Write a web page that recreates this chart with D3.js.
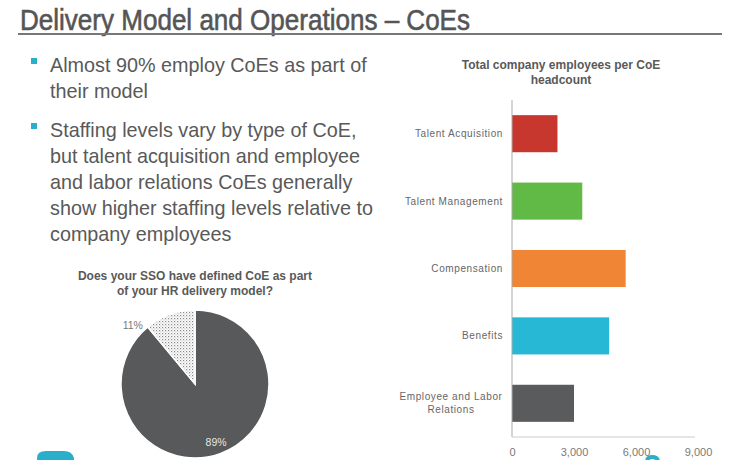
<!DOCTYPE html>
<html><head><meta charset="utf-8">
<script src="https://cdn.jsdelivr.net/npm/d3@7/dist/d3.min.js"></script>
<style>
html,body{margin:0;padding:0;background:#fff;}
svg{display:block;font-family:"Liberation Sans",Arial,sans-serif;}
</style></head>
<body>
<svg id="c" width="740" height="460"></svg>
<script>
// ---- data ----
const categories = ["Talent Acquisition","Talent Management","Compensation","Benefits","Employee and Labor Relations"];
const values = [2200, 3400, 5500, 4700, 3000];
const barColors = ["#C8372D","#62BA46","#EF8535","#26B8D5","#5A5B5D"];
const xTicks = [0, 3000, 6000, 9000];
const pieLabels = ["Yes","No"];
const pieValues = [89, 11];
const bullets = [
  ["Almost 90% employ CoEs as part of","their model"],
  ["Staffing levels vary by type of CoE,","but talent acquisition and employee","and labor relations CoEs generally","show higher staffing levels relative to","company employees"]
];

const svg = d3.select("#c");
const gray = "#595959";

// pattern for pie slice
const defs = svg.append("defs");
const pat = defs.append("pattern").attr("id","dots").attr("patternUnits","userSpaceOnUse")
  .attr("width",3).attr("height",3);
pat.append("rect").attr("width",3).attr("height",3).attr("fill","#fff");
pat.append("rect").attr("x",0).attr("y",0).attr("width",1.2).attr("height",1.2).attr("fill","#888");
pat.append("rect").attr("x",1.5).attr("y",1.5).attr("width",1).attr("height",1).attr("fill","#aaa");

// ---- header ----
svg.append("text").attr("x",20).attr("y",30)
  .attr("font-family","'Liberation Sans',Arial,sans-serif")
  .attr("font-size",30).attr("fill","#555").attr("stroke","#555").attr("stroke-width",0.6)
  .attr("textLength",450).attr("lengthAdjust","spacingAndGlyphs")
  .text("Delivery Model and Operations \u2013 CoEs");
svg.append("line").attr("x1",18).attr("x2",722).attr("y1",34).attr("y2",34)
  .attr("stroke","#777").attr("stroke-width",2);

// ---- bullets ----
const bulletY = [72, 137];
bullets.forEach((lines,i)=>{
  svg.append("rect").attr("x",31).attr("y",bulletY[i]-14).attr("width",6).attr("height",6).attr("fill","#2AAFCB");
  lines.forEach((t,j)=>{
    svg.append("text").attr("x",50).attr("y",bulletY[i]+j*26)
      .attr("font-size",19.8).attr("fill",gray).text(t);
  });
});

// ---- pie ----
svg.append("text").attr("text-anchor","middle").attr("font-weight","bold").attr("font-size",12)
  .attr("fill",gray)
  .selectAll("tspan").data(["Does your SSO have defined CoE as part","of your HR delivery model?"]).join("tspan")
  .attr("x",195).attr("y",(d,i)=>280+i*15).text(d=>d);

const pcx = 195, pcy = 384, pr = 74;
const pie = d3.pie().sort(null).value(d=>d);
const arcs = pie(pieValues);
const arc = d3.arc().innerRadius(0).outerRadius(pr);
const pg = svg.append("g").attr("transform",`translate(${pcx},${pcy})`);
pg.selectAll("path").data(arcs).join("path").attr("d",arc)
  .attr("fill",(d,i)=>i===0?"#58595B":"url(#dots)")
  .attr("stroke","#fff").attr("stroke-width",1.5);
// labels
const inArc = d3.arc().innerRadius(pr*0.84).outerRadius(pr*0.84);
const c0 = inArc.centroid(arcs[0]);
pg.append("text").attr("text-anchor","middle").attr("font-size",10.5).attr("fill","#e6e6e6")
  .attr("x",c0[0]).attr("y",c0[1]+4).text(pieValues[0]+"%");
const a1 = arcs[1].startAngle - 0.12;
const outArc = d3.arc().innerRadius(pr*1.16).outerRadius(pr*1.16);
const c1 = outArc.centroid({startAngle:a1,endAngle:a1});
pg.append("text").attr("text-anchor","middle").attr("font-size",10.5).attr("fill","#777")
  .attr("x",c1[0]).attr("y",c1[1]+4).text(pieValues[1]+"%");

// ---- bar chart ----
svg.append("text").attr("text-anchor","middle").attr("font-weight","bold").attr("font-size",12)
  .attr("fill",gray)
  .selectAll("tspan").data(["Total company employees per CoE","headcount"]).join("tspan")
  .attr("x",561).attr("y",(d,i)=>69+i*15).text(d=>d);

const x = d3.scaleLinear().domain([0,9000]).range([512,698]);
const y = d3.scaleBand().domain(categories).range([100,437]).paddingInner(0.45).paddingOuter(0.225);

svg.append("g").selectAll("rect").data(categories).join("rect")
  .attr("x",x(0)).attr("y",d=>y(d)).attr("height",y.bandwidth())
  .attr("width",(d,i)=>x(values[i])-x(0)).attr("fill",(d,i)=>barColors[i]);

// axes
svg.append("line").attr("x1",x(0)).attr("x2",x(0)).attr("y1",100).attr("y2",437).attr("stroke","#aaa").attr("stroke-width",1);
svg.append("line").attr("x1",x(0)).attr("x2",695).attr("y1",437).attr("y2",437).attr("stroke","#ccc").attr("stroke-width",1.2);

const xAxis = svg.append("g").attr("transform","translate(0,437)")
  .call(d3.axisBottom(x).tickValues(xTicks).tickSize(0).tickPadding(11).tickFormat(d3.format(",")));
xAxis.select(".domain").remove();
xAxis.selectAll("text").attr("font-size",11).attr("fill","#7a7a7a").attr("font-family","'Liberation Sans',Arial,sans-serif");

const yAxis = svg.append("g").attr("transform",`translate(${x(0)},0)`)
  .call(d3.axisLeft(y).tickSize(0).tickPadding(9).tickFormat(""));
yAxis.select(".domain").remove();
yAxis.selectAll(".tick").each(function(d){
  const g = d3.select(this);
  const lines = d==="Employee and Labor Relations" ? ["Employee and Labor","Relations"] : [d];
  const t = g.append("text").attr("text-anchor", lines.length>1?"middle":"end")
    .attr("font-size",10).attr("fill","#666").attr("letter-spacing",0.6)
    .attr("font-family","'Liberation Sans',Arial,sans-serif");
  lines.forEach((l,i)=>{
    t.append("tspan").attr("x", lines.length>1 ? -61 : -9)
      .attr("y", (i-(lines.length-1)/2)*13 + 3.5).text(l);
  });
});

// ---- decorative logo fragments ----
svg.append("path").attr("d","M37,462 L37,458 Q37,451 46,451 L64,451 Q72,451 74,458 L74,462 Z").attr("fill","#2AAFCB");
svg.append("path").attr("d","M645,462 Q645,455 652,455 Q660,455 660,462 L656,462 Q656,459 652,459 Q649,459 649,462 Z").attr("fill","#2AAFCB");
</script>
</body></html>
